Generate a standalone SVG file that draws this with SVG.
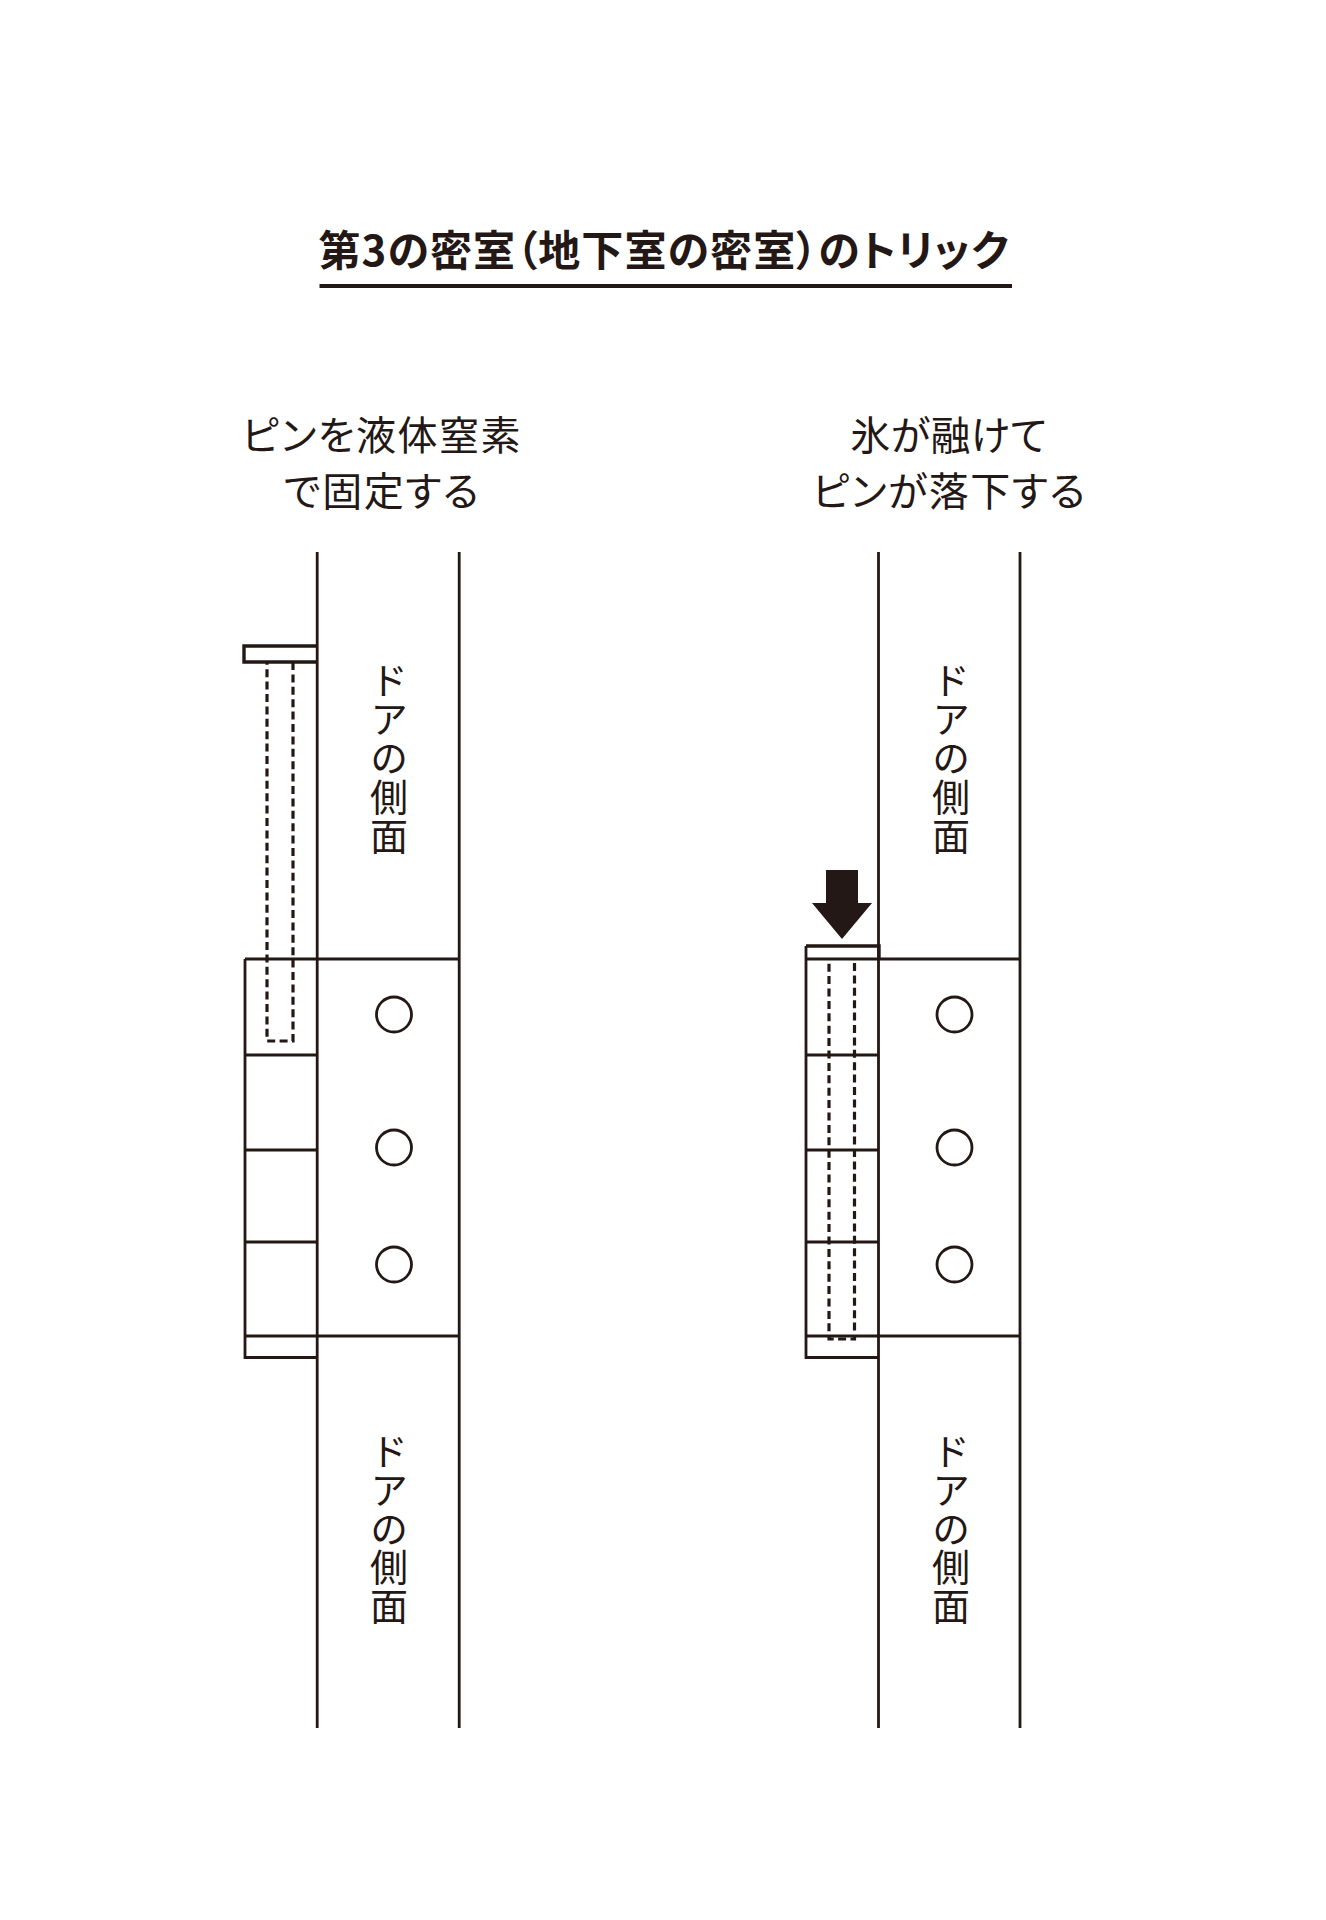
<svg xmlns="http://www.w3.org/2000/svg" width="1326" height="1920" viewBox="0 0 1326 1920">
<style>
.l{stroke:#231815;stroke-width:2.8;fill:none}
.h{stroke:#231815;stroke-width:3.4;fill:none}
.d{stroke:#231815;stroke-width:3.2;fill:none;stroke-dasharray:8 4.4}
.c{stroke:#231815;stroke-width:2.8;fill:#fff}
text{font-family:"Noto Sans CJK JP","Noto Sans",sans-serif;fill:#231815;font-feature-settings:"palt"}
.t{font-size:42px;font-weight:700}
.s{font-size:40px;font-weight:400;text-anchor:middle;letter-spacing:1.5px}
.v{font-size:38px;writing-mode:vertical-rl;letter-spacing:0.8px;font-feature-settings:normal}
</style>
<rect width="1326" height="1920" fill="#fff"/>
<g id="title">
<text class="t" x="318.500" y="266" textLength="690" lengthAdjust="spacing">第3の密室（地下室の密室）のトリック</text>
<line x1="319.500" y1="286" x2="1012" y2="286" stroke="#231815" stroke-width="4.2"/>
</g>
<g id="caption-left">
<text class="s" x="382" y="450">ピンを液体窒素</text>
<text class="s" x="382" y="506">で固定する</text>
</g>
<g id="caption-right">
<text class="s" x="949" y="450" style="letter-spacing:0.5px">氷が融けて</text>
<text class="s" x="949.500" y="506">ピンが落下する</text>
</g>
<g id="door-left">
<path class="l" d="M317.200 552V1728M459.200 552V1728"/>
<text class="v" x="389" y="661">ドアの側面</text>
<text class="v" x="389" y="1431.500">ドアの側面</text>
</g>
<g id="hinge-left">
<path class="l" d="M245 959H459M245 1055H317M245 1150H317M245 1242H317M245 1336H459"/>
<path class="l" d="M245 959V1357.500H317"/>
<circle class="c" cx="394" cy="1014.500" r="17.5"/>
<circle class="c" cx="394" cy="1147.500" r="17.5"/>
<circle class="c" cx="394" cy="1264.500" r="17.5"/>
</g>
<g id="pin-left">
<path class="h" d="M318 646H244V662H318"/>
<path class="d" d="M293 662V1041H267V662"/>
</g>
<g id="door-right">
<path class="l" d="M878.500 552V1728M1020 552V1728"/>
<text class="v" x="951" y="661">ドアの側面</text>
<text class="v" x="951" y="1431.500">ドアの側面</text>
</g>
<g id="hinge-right">
<path class="l" d="M806 959H1020M806 1055H879M806 1150H879M806 1242H879M806 1336H1020"/>
<path class="l" d="M806 946V1357.500H879"/>
<circle class="c" cx="954.500" cy="1014.500" r="17.5"/>
<circle class="c" cx="954.500" cy="1147.500" r="17.5"/>
<circle class="c" cx="954.500" cy="1264.500" r="17.5"/>
</g>
<g id="pin-right">
<path class="h" d="M806 946H879V959"/>
<path class="d" d="M854.500 963V1339H829V963"/>
<polygon points="826,870 858,870 858,903 872,903 842,939 812,903 826,903" fill="#231815"/>
</g>
</svg>
